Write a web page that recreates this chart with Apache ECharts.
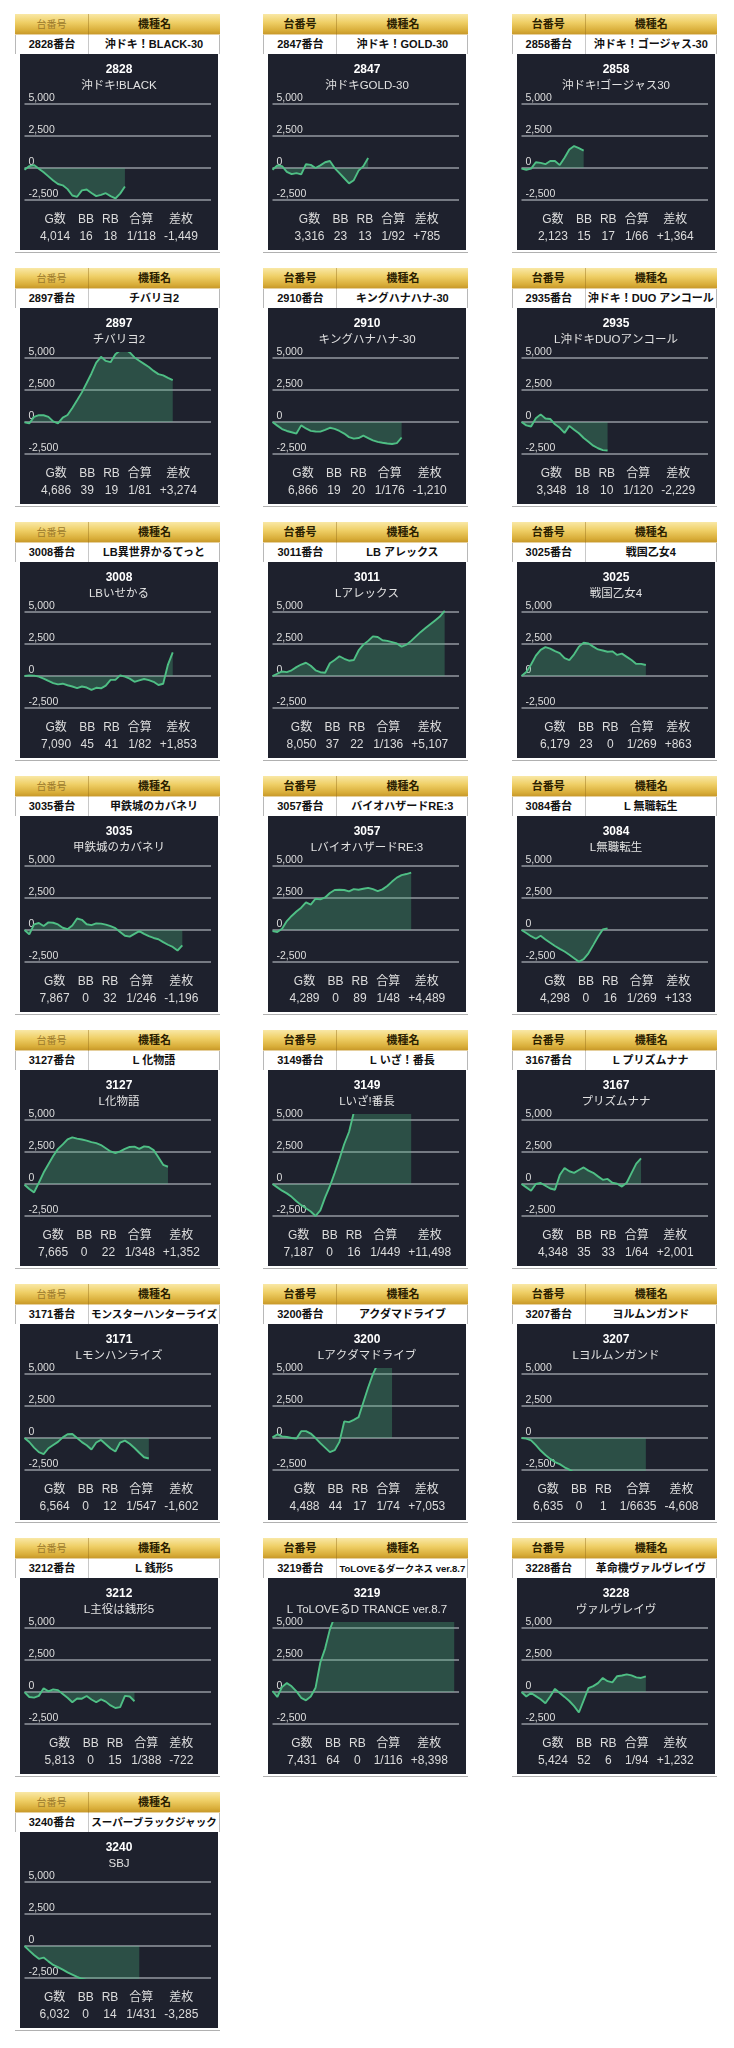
<!DOCTYPE html>
<html lang="ja">
<head>
<meta charset="utf-8">
<script src="https://cdn.jsdelivr.net/npm/echarts@6/dist/echarts.min.js"></script>
<style>
  html, body { margin: 0; padding: 0; background: #fff; }
  body { width: 734px; height: 2048px; position: relative; overflow: hidden;
         font-family: "Liberation Sans", "Noto Sans CJK JP", sans-serif; }
  .card { position: absolute; width: 205px; height: 241px; }
  .gold { position: absolute; left: 0; top: 0; width: 205px; height: 21px; display: flex;
          background: linear-gradient(180deg, #f9e8a6 0%, #efcf66 40%, #d9ae3a 78%, #c49426 100%);
          box-shadow: inset 0 -1px 0 rgba(255,255,255,0.55); }
  .gl { width: 74px; box-sizing: border-box; border-right: 1px solid rgba(150,110,25,0.45);
        text-align: center; line-height: 21px; font-weight: bold; font-size: 11px; color: #2a2000; }
  .gl.muted { color: #9c7a2c; font-weight: normal; font-size: 10px; }
  .gr { flex: 1; text-align: center; line-height: 21px; font-weight: bold; font-size: 11px; color: #2a2000; }
  .white { position: absolute; left: 0; top: 21px; width: 205px; height: 19px; display: flex; background: #fff;
           box-sizing: border-box; border-left: 1px solid #b8b8b8; border-right: 1px solid #b8b8b8; }
  .wl { width: 73px; box-sizing: border-box; border-right: 1px solid #c8c8c8; text-align: center;
        line-height: 19px; font-weight: bold; font-size: 11px; color: #111; white-space: nowrap; }
  .wr { flex: 1; text-align: center; line-height: 19px; font-weight: bold; font-size: 11px; color: #111;
        white-space: nowrap; overflow: hidden; }
  .wr span { display: inline-block; }
  .dark { position: absolute; left: 5px; top: 40px; width: 198px; height: 196px; background: #1e212d; }
  .chart { position: absolute; left: 0; top: 0; width: 198px; height: 196px; }
  .stats { position: absolute; left: 0; top: 157px; width: 198px; text-align: center; }
  .stats table { display: inline-table; border-collapse: collapse; }
  .stats td { padding: 0 4px; text-align: center; font-size: 12px; line-height: 17px; color: #dcdcdc; white-space: nowrap; }
  .foot { position: absolute; left: 0; top: 238px; width: 205px; height: 1px; background: #b0b0b0; }
</style>
</head>
<body>
<script>
// ---------- data ----------
const machineNos = ['2828','2847','2858','2897','2910','2935','3008','3011','3025','3035','3057','3084',
                    '3127','3149','3167','3171','3200','3207','3212','3219','3228','3240'];
const headerNames = ['沖ドキ！BLACK-30','沖ドキ！GOLD-30','沖ドキ！ゴージャス-30','チバリヨ2','キングハナハナ-30',
                     '沖ドキ！DUO アンコール','LB異世界かるてっと','LB アレックス','戦国乙女4','甲鉄城のカバネリ',
                     'バイオハザードRE:3','L 無職転生','L 化物語','L いざ！番長','L プリズムナナ',
                     'モンスターハンターライズ','アクダマドライブ','ヨルムンガンド','L 銭形5',
                     'ToLOVEるダークネス ver.8.7','革命機ヴァルヴレイヴ','スーパーブラックジャック'];
const chartNames = ['沖ドキ!BLACK','沖ドキGOLD-30','沖ドキ!ゴージャス30','チバリヨ2','キングハナハナ-30',
                    'L沖ドキDUOアンコール','LBいせかる','Lアレックス','戦国乙女4','甲鉄城のカバネリ',
                    'LバイオハザードRE:3','L無職転生','L化物語','Lいざ!番長','プリズムナナ',
                    'Lモンハンライズ','Lアクダマドライブ','Lヨルムンガンド','L主役は銭形5',
                    'L ToLOVEるD TRANCE ver.8.7','ヴァルヴレイヴ','SBJ'];
const gameCounts = [4014,3316,2123,4686,6866,3348,7090,8050,6179,7867,4289,4298,7665,7187,4348,6564,4488,6635,5813,7431,5424,6032];
const bbCounts   = [16,23,15,39,19,18,45,37,23,0,0,0,0,0,35,0,44,0,0,64,52,0];
const rbCounts   = [18,13,17,19,20,10,41,22,0,32,89,16,22,16,33,12,17,1,15,0,6,14];
const combinedDenoms = [118,92,66,81,176,120,82,136,269,246,48,269,348,449,64,547,74,6635,388,116,94,431];
const diffCoins  = [-1449,785,1364,3274,-1210,-2229,1853,5107,863,-1196,4489,133,1352,11498,2001,-1602,7053,-4608,-722,8398,1232,-3285];
const statHeaders = ['G数','BB','RB','合算','差枚'];

const slotCount = 40;
const slots = Array.from({ length: slotCount }, (_, i) => String(i));
const yTicks = [-2500, 0, 2500, 5000];
const yTickLabels = ['-2,500', '0', '2,500', '5,000'];
const yMin = -2500, yMax = 5400;

const d2828 = [-130,150,230,-50,-330,-650,-980,-1250,-1350,-1650,-2150,-2250,-1750,-1680,-1950,-2200,-2100,-1970,-2200,-2380,-2000,-1449];
const d2847 = [-130,200,150,-300,-480,-400,-500,300,250,0,210,450,550,0,-400,-800,-1200,-950,-200,150,785];
const d2858 = [-50,-130,-50,450,400,300,550,550,230,800,1450,1720,1550,1364];
const d2897 = [-30,-100,400,540,530,400,50,-100,350,550,1100,1700,2320,3050,3800,4650,5100,4780,4680,5300,5600,5700,5450,5050,4800,4550,4300,4000,3750,3650,3450,3274];
const d2910 = [0,-280,-550,-700,-800,-900,-260,-500,-690,-740,-750,-620,-450,-530,-700,-900,-1180,-1300,-1250,-1070,-1250,-1430,-1550,-1620,-1680,-1720,-1650,-1210];
const d2935 = [0,-260,-350,300,600,280,240,-180,-450,-850,-300,-600,-880,-1250,-1550,-1850,-2050,-2200,-2229];
const d3008 = [0,50,30,-50,-200,-380,-550,-650,-600,-720,-820,-940,-820,-900,-1080,-920,-960,-750,-300,-300,50,-50,-200,-450,-340,-230,-320,-450,-700,-600,900,1853];
const d3011 = [0,180,360,310,450,700,900,1040,800,450,300,260,1000,1250,1550,1350,1200,1250,2000,2450,2750,3100,3050,2800,2750,2650,2550,2300,2450,2750,3100,3450,3750,4050,4350,4650,5107];
const d3025 = [0,310,900,1600,2050,2260,2150,1950,1800,1400,1250,1700,2300,2600,2550,2300,2080,2000,1900,1930,1650,1750,1500,1250,950,950,863];
const d3035 = [0,-340,440,550,320,600,570,440,180,60,350,900,800,450,380,520,500,420,300,150,-150,-450,-520,-300,-80,-300,-480,-620,-720,-950,-1150,-1320,-1600,-1196];
const d3057 = [-80,-150,100,700,1100,1450,1750,2170,1990,2450,2400,2550,2900,3130,3150,3130,3020,3200,3150,3230,3300,3200,3050,3180,3450,3790,4100,4300,4380,4489];
const d3084 = [0,-230,-480,-680,-450,-740,-1000,-1250,-1470,-1680,-1930,-2200,-2480,-2280,-1820,-1180,-530,50,133];
const d3127 = [-50,-390,-650,100,900,1550,2200,2750,3100,3500,3650,3550,3480,3400,3280,3200,3050,2800,2550,2430,2550,2750,2900,2930,2750,2950,2900,2650,2100,1500,1352];
const d3149 = [0,-260,-520,-730,-1000,-1350,-1650,-1900,-2150,-2500,-2060,-1040,-170,860,1960,3130,4070,5600,6300,7000,7500,8000,8600,9100,9600,10000,10500,10900,11200,11498];
const d3167 = [0,-260,-520,0,80,-130,-350,-450,700,1250,1000,870,1100,1300,1050,880,600,330,400,100,20,-200,100,850,1600,2001];
const d3171 = [0,-310,-750,-1100,-1250,-800,-550,-300,50,300,320,0,-320,-570,-900,-350,-150,-480,-820,-1050,-350,-200,-450,-780,-1150,-1500,-1602];
const d3200 = [50,280,130,80,0,-50,540,540,350,0,-400,-750,-1100,-950,-300,1300,1240,1420,1630,2800,3950,5000,5800,6400,6800,7053];
const d3207 = [0,-50,-180,-560,-980,-1330,-1630,-1880,-2040,-2290,-2470,-2700,-2900,-3100,-3250,-3400,-3550,-3650,-3800,-3900,-4050,-4150,-4250,-4350,-4450,-4550,-4608];
const d3212 = [0,-390,-440,-300,300,50,200,150,-150,-450,-800,-500,-520,-310,-580,-800,-570,-750,-1050,-1250,-1180,-300,-350,-722];
const d3219 = [80,-390,400,700,450,50,-450,-650,-350,330,2310,3400,4900,5900,6300,6500,6700,6800,6900,7000,7100,7200,7300,7350,7400,7500,7600,7650,7700,7800,7850,7900,8000,8050,8100,8200,8250,8300,8398];
const d3228 = [0,-350,-80,-320,-570,-880,-350,250,-80,-380,-700,-1100,-1600,-650,300,460,700,1100,850,750,1240,1290,1380,1300,1150,1100,1232];
const d3240 = [0,-360,-700,-1000,-900,-1200,-1480,-1650,-1850,-2060,-2240,-2420,-2560,-2650,-2750,-2850,-2900,-2950,-3000,-3050,-3100,-3150,-3200,-3250,-3285];

const seriesData = [d2828,d2847,d2858,d2897,d2910,d2935,d3008,d3011,d3025,d3035,d3057,d3084,
                    d3127,d3149,d3167,d3171,d3200,d3207,d3212,d3219,d3228,d3240];

// ---------- layout / style ----------
const FONT = '"Liberation Sans","Noto Sans CJK JP",sans-serif';
const X0 = 15, Y0 = 14, PITCH_X = 248.4, PITCH_Y = 254;
const LINE_COLOR = '#4fbf85';
const AREA_COLOR = 'rgba(79,191,133,0.42)';

function fmtNum(n) { return n.toLocaleString('en-US'); }
function fmtDiff(n) { return (n > 0 ? '+' : '') + n.toLocaleString('en-US'); }

machineNos.forEach((no, i) => {
  const c = i % 3, r = Math.floor(i / 3);
  const card = document.createElement('div');
  card.className = 'card';
  card.style.left = (X0 + c * PITCH_X) + 'px';
  card.style.top = (Y0 + r * PITCH_Y) + 'px';
  const values = [fmtNum(gameCounts[i]), String(bbCounts[i]), String(rbCounts[i]),
                  '1/' + combinedDenoms[i], fmtDiff(diffCoins[i])];
  card.innerHTML =
    '<div class="gold"><div class="gl' + (c === 0 ? ' muted' : '') + '">台番号</div><div class="gr">機種名</div></div>' +
    '<div class="white"><div class="wl">' + no + '番台</div><div class="wr"><span>' + headerNames[i] + '</span></div></div>' +
    '<div class="dark"><div class="chart" id="chart' + i + '"></div>' +
    '<div class="stats"><table><tr>' + statHeaders.map(h => '<td>' + h + '</td>').join('') + '</tr><tr>' +
    values.map(v => '<td>' + v + '</td>').join('') + '</tr></table></div></div>' +
    '<div class="foot"></div>';
  document.body.appendChild(card);

  // fit long machine names into the cell
  const cell = card.querySelector('.wr');
  const span = cell.querySelector('span');
  const avail = cell.clientWidth - 4;
  if (span.offsetWidth > avail) {
    const fs = Math.max(7.5, 11 * avail / span.offsetWidth);
    span.style.fontSize = fs + 'px';
  }

  const chart = echarts.init(document.getElementById('chart' + i), null, { renderer: 'canvas' });
  chart.setOption({
    animation: false,
    backgroundColor: 'transparent',
    textStyle: { fontFamily: FONT },
    title: {
      text: no,
      subtext: chartNames[i],
      left: 'center',
      top: 4,
      itemGap: 2,
      textStyle: { fontSize: 12, fontWeight: 'bold', color: '#ffffff', lineHeight: 14, fontFamily: FONT },
      subtextStyle: { fontSize: 11.5, color: '#e2e2e2', lineHeight: 14, fontFamily: FONT }
    },
    grid: { left: 4.5, right: 7, top: 45, bottom: 50 },
    xAxis: { type: 'category', data: slots, boundaryGap: false, show: false },
    yAxis: {
      type: 'value', min: yMin, max: yMax, interval: 2500,
      axisLine: { show: false }, axisTick: { show: false },
      axisLabel: {
        inside: true, margin: 4, showMaxLabel: false, verticalAlign: 'bottom',
        color: '#dedede', fontSize: 10.5, lineHeight: 12, fontFamily: FONT,
        formatter: v => { const k = yTicks.indexOf(v); return k >= 0 ? yTickLabels[k] : ''; }
      },
      splitLine: { show: true, showMaxLine: false, lineStyle: { color: '#9598a0', width: 1.5 } }
    },
    series: [{
      type: 'line',
      data: seriesData[i],
      symbol: 'none',
      clip: true,
      lineStyle: { color: LINE_COLOR, width: 1.9 },
      areaStyle: { color: AREA_COLOR },
      z: 1
    }]
  });
});
</script>
</body>
</html>
